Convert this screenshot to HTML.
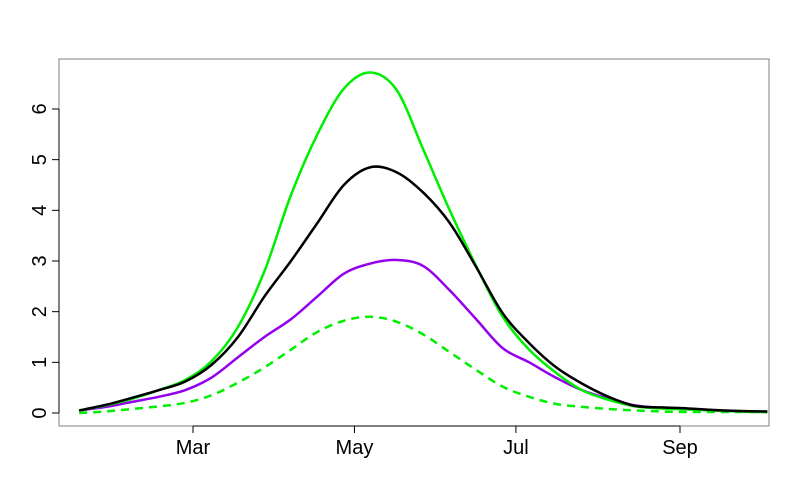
<!DOCTYPE html>
<html><head><meta charset="utf-8"><style>
body{margin:0;background:#fff}
svg{display:block;font-family:"Liberation Sans",Arial,sans-serif}
</style></head><body>
<svg id="chart" width="800" height="500">
<rect x="59" y="59" width="710" height="367" fill="none" stroke="#808080" stroke-width="1"/>
<g id="axes"></g>
<g id="series"></g>
</svg>
<script>
const days=[16,26,36,46,56,66,76,86,96,106,116,126,136,146,156,166,176,186,196,206,216,226,236,246,256,266,276];
const greenSolid=[0.05,0.15,0.28,0.45,0.65,1.02,1.7,2.8,4.3,5.5,6.4,6.72,6.37,5.2,4.0,2.9,1.9,1.25,0.8,0.45,0.26,0.13,0.09,0.07,0.05,0.03,0.02];
const blackLine=[0.05,0.16,0.3,0.45,0.62,0.95,1.5,2.3,3.0,3.75,4.5,4.85,4.75,4.35,3.75,2.88,1.97,1.38,0.91,0.58,0.32,0.14,0.11,0.09,0.06,0.04,0.03];
const purpleLine=[0.05,0.12,0.22,0.32,0.45,0.7,1.1,1.5,1.85,2.3,2.75,2.95,3.02,2.9,2.42,1.85,1.28,1.0,0.7,0.45,0.28,0.15,0.1,0.08,0.05,0.03,0.02];
const greenDashed=[0.0,0.03,0.08,0.13,0.2,0.35,0.6,0.9,1.25,1.6,1.82,1.9,1.8,1.55,1.2,0.85,0.52,0.32,0.18,0.12,0.08,0.05,0.03,0.02,0.02,0.02,0.02];
const yTicks=[0,1,2,3,4,5,6];
const xTickDays=[59,120,181,243];
const xTickLabels=["Mar","May","Jul","Sep"];

const NS="http://www.w3.org/2000/svg";
function xs(d){return 193+(d-59)*(680-193)/(243-59);}
function ys(v){return 413-v*50.67;}
const axes=document.getElementById('axes');
const ser=document.getElementById('series');
function mk(tag,attrs,parent){const e=document.createElementNS(NS,tag);for(const k in attrs)e.setAttribute(k,attrs[k]);parent.appendChild(e);return e;}
mk('line',{x1:59,x2:59,y1:ys(0),y2:ys(6),stroke:'#000'},axes);
yTicks.forEach(t=>{
  const l=mk('line',{x1:52,x2:59,y1:ys(t),y2:ys(t),stroke:'#000'},axes);
  
  
  const tx=mk('text',{x:0,y:0,'font-size':20,'text-anchor':'middle',transform:`translate(46,${ys(t)}) rotate(-90)`},axes);
  tx.textContent=t;
  
  
});
mk('line',{x1:xs(xTickDays[0]),x2:xs(xTickDays[xTickDays.length-1]),y1:426,y2:426,stroke:'#000'},axes);
xTickDays.forEach((d,i)=>{
  const l=mk('line',{x1:xs(d),x2:xs(d),y1:426,y2:433,stroke:'#000'},axes);
  
  
  const tx=mk('text',{x:xs(d),y:454,'font-size':20,'text-anchor':'middle'},axes);
  tx.textContent=xTickLabels[i];
  
  
});
function pathFor(vals){
  const p=vals.map((v,i)=>[xs(days[i]),ys(v)]);
  let d=`M${p[0][0]},${p[0][1]}`;
  for(let i=0;i<p.length-1;i++){
    const p0=p[Math.max(0,i-1)],p1=p[i],p2=p[i+1],p3=p[Math.min(p.length-1,i+2)];
    const c1=[p1[0]+(p2[0]-p0[0])/6,p1[1]+(p2[1]-p0[1])/6];
    const c2=[p2[0]-(p3[0]-p1[0])/6,p2[1]-(p3[1]-p1[1])/6];
    d+=` C${c1[0]},${c1[1]} ${c2[0]},${c2[1]} ${p2[0]},${p2[1]}`;
  }
  return d;
}
const lines=[[greenDashed,'#00ee00','8 6','green-dashed-line'],[purpleLine,'#9400ee',null,'purple-line'],[greenSolid,'#00ee00',null,'green-solid-line'],[blackLine,'#000',null,'black-line']];
lines.forEach(([vals,col,dash,name])=>{
  const a={d:pathFor(vals),fill:'none',stroke:col,'stroke-width':2.5};
  if(dash)a['stroke-dasharray']=dash;
  const e=mk('path',a,ser);
  
  
});
</script>
</body></html>
